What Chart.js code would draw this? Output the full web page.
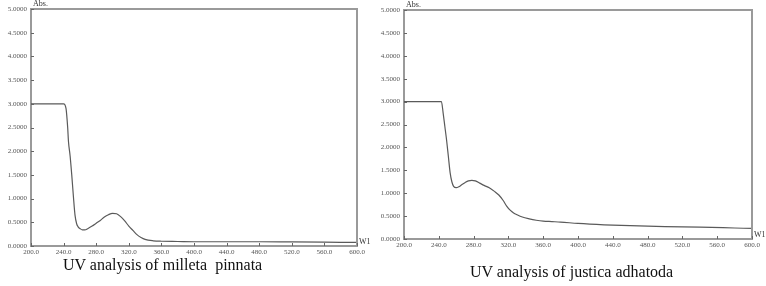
<!DOCTYPE html>
<html>
<head>
<meta charset="utf-8">
<script src="https://cdn.jsdelivr.net/npm/chart.js@4.4.0/dist/chart.umd.min.js"></script>
<style>
  body { margin: 0; background: #fff; width: 766px; height: 286px; overflow: hidden; position: relative; }
  canvas { position: absolute; top: 0; }
  .cap { position: absolute; font-family: "Liberation Serif", serif; font-size: 16px; color: #111; white-space: pre; }
</style>
</head>
<body>
<canvas id="c1" width="375" height="260" style="left:0px"></canvas>
<canvas id="c2" width="394" height="253" style="left:372px"></canvas>
<div class="cap" style="left:63px; top:256px;">UV analysis of milleta  pinnata</div>
<div class="cap" style="left:470px; top:263px;">UV analysis of justica adhatoda</div>
<script>
// millettia pinnata
const wl1 = [200, 220, 240, 243, 245, 246, 248, 250, 252, 254, 256, 258, 260, 263, 266, 270, 275, 280, 285, 290, 295, 300, 305, 310, 315, 320, 325, 330, 335, 340, 350, 360, 380, 400, 440, 480, 520, 560, 600];
const abs1 = [3.0, 3.0, 3.0, 2.9, 2.5, 2.2, 1.9, 1.5, 1.05, 0.65, 0.47, 0.4, 0.37, 0.34, 0.34, 0.37, 0.42, 0.48, 0.54, 0.61, 0.66, 0.69, 0.68, 0.62, 0.53, 0.42, 0.33, 0.24, 0.18, 0.14, 0.11, 0.1, 0.095, 0.09, 0.09, 0.09, 0.085, 0.08, 0.075];

// justicia adhatoda
const wl2 = [200, 220, 240, 243, 245, 247, 249, 251, 253, 255, 257, 260, 263, 266, 270, 274, 278, 282, 287, 292, 298, 304, 309, 314, 318, 322, 326, 330, 336, 344, 352, 360, 370, 380, 400, 430, 460, 500, 540, 580, 600];
const abs2 = [3.0, 3.0, 3.0, 3.0, 2.75, 2.45, 2.15, 1.8, 1.45, 1.25, 1.15, 1.12, 1.14, 1.18, 1.23, 1.27, 1.28, 1.27, 1.22, 1.17, 1.12, 1.04, 0.96, 0.84, 0.72, 0.63, 0.57, 0.53, 0.48, 0.44, 0.41, 0.39, 0.38, 0.37, 0.34, 0.31, 0.29, 0.27, 0.26, 0.24, 0.23];

const xMin = 200, xMax = 600, xStep = 40;
const yMin = 0, yMax = 5, yStep = 0.5;

const tickFont = { family: 'Liberation Serif', size: 7 };
const axisGray = '#9a9a9a';

// frame, inner tick marks, Abs. and W1 labels
const framePlugin = {
  id: 'frame',
  afterDraw: (chart) => {
    const ctx = chart.ctx;
    const a = chart.chartArea;
    const xs = chart.scales.x;
    const ys = chart.scales.y;
    ctx.save();
    ctx.strokeStyle = axisGray;
    ctx.lineWidth = 2;
    ctx.beginPath();
    ctx.moveTo(a.left, a.top);
    ctx.lineTo(a.right, a.top);
    ctx.lineTo(a.right, a.bottom);
    ctx.stroke();

    ctx.strokeStyle = '#666';
    ctx.lineWidth = 1;
    ctx.beginPath();
    xs.ticks.forEach(t => {
      const px = Math.round(xs.getPixelForValue(t.value)) + 0.5;
      ctx.moveTo(px, a.bottom);
      ctx.lineTo(px, a.bottom - 3);
    });
    ys.ticks.forEach(t => {
      const py = Math.round(ys.getPixelForValue(t.value)) + 0.5;
      ctx.moveTo(a.left, py);
      ctx.lineTo(a.left + 3, py);
    });
    ctx.stroke();

    ctx.fillStyle = '#333';
    ctx.font = '8px "Liberation Serif"';
    ctx.textBaseline = 'bottom';
    ctx.textAlign = 'left';
    ctx.fillText('Abs.', a.left + 2, a.top - 1);
    ctx.textBaseline = 'middle';
    ctx.fillText('W1', a.right + 2, a.bottom - 4);
    ctx.restore();
  }
};

const createChart = (id, wl, abs, pad, yWidth) => {
  const ctx = document.getElementById(id).getContext('2d');
  return new Chart(ctx, {
    type: 'line',
    data: {
      datasets: [{
        data: wl.map((w, i) => ({ x: w, y: abs[i] })),
        borderColor: '#5a5a5a',
        borderWidth: 1.2,
        pointRadius: 0,
        cubicInterpolationMode: 'monotone',
        fill: false
      }]
    },
    options: {
      responsive: false,
      animation: false,
      layout: { padding: pad },
      plugins: { legend: { display: false }, tooltip: { enabled: false } },
      scales: {
        x: {
          type: 'linear',
          min: xMin,
          max: xMax,
          ticks: {
            stepSize: xStep,
            font: tickFont,
            color: '#555',
            padding: 2,
            maxRotation: 0,
            callback: v => v.toFixed(1)
          },
          grid: { drawOnChartArea: false, drawTicks: false },
          border: { color: axisGray, width: 2 },
          afterFit: s => { s.height = 14; }
        },
        y: {
          min: yMin,
          max: yMax,
          ticks: {
            stepSize: yStep,
            font: tickFont,
            color: '#555',
            padding: 4,
            callback: v => v.toFixed(4)
          },
          grid: { drawOnChartArea: false, drawTicks: false },
          border: { color: axisGray, width: 2 },
          afterFit: s => { s.width = yWidth; }
        }
      }
    },
    plugins: [framePlugin]
  });
};

createChart('c1', wl1, abs1, { top: 9, right: 18, left: 0, bottom: 0 }, 31);
createChart('c2', wl2, abs2, { top: 10, right: 14, left: 0, bottom: 0 }, 32);
</script>
</body>
</html>
